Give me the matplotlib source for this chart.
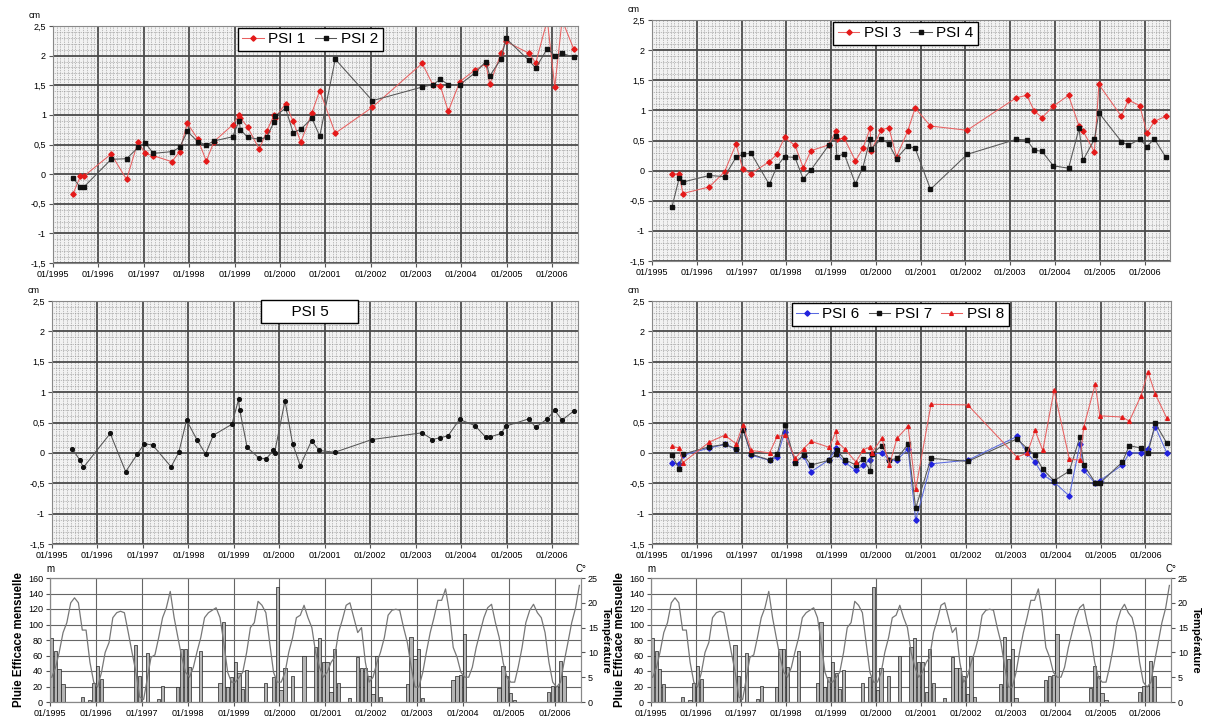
import matplotlib
matplotlib.use('Agg')
import matplotlib.pyplot as plt
import matplotlib.dates as mdates
from matplotlib.ticker import MultipleLocator, FuncFormatter
import pandas as pd

plt.rcParams['font.family'] = ['Liberation Sans', 'DejaVu Sans']

# SAR acquisition dates (shared by all PSI points)
dates = pd.to_datetime([
    '1995-06-12', '1995-08-10', '1995-09-10', '1996-04-13', '1996-08-15',
    '1996-11-16', '1997-01-11', '1997-03-19', '1997-08-15', '1997-10-16',
    '1997-12-17', '1998-03-12', '1998-05-19', '1998-07-20', '1998-12-16',
    '1999-02-08', '1999-02-17', '1999-04-18', '1999-07-19', '1999-09-17',
    '1999-11-15', '1999-11-24', '2000-02-16', '2000-04-17', '2000-06-18',
    '2000-09-16', '2000-11-17', '2001-03-22', '2002-01-15', '2003-02-20',
    '2003-05-16', '2003-07-17', '2003-09-18', '2003-12-19', '2004-04-21',
    '2004-07-16', '2004-08-17', '2004-11-18', '2004-12-25', '2005-06-27',
    '2005-08-22', '2005-11-23', '2006-01-22', '2006-03-22', '2006-06-24'])

psi1 = [-0.33, -0.03, -0.03, 0.34, -0.09, 0.55, 0.35, 0.31, 0.21, 0.38,
        0.86, 0.59, 0.22, 0.55, 0.83, 1.00, 0.95, 0.79, 0.42, 0.72,
        1.00, 0.95, 1.19, 0.89, 0.54, 1.04, 1.41, 0.69, 1.13, 1.87,
        1.51, 1.48, 1.06, 1.56, 1.76, 1.86, 1.52, 2.05, 2.24, 2.04,
        1.88, 2.60, 1.47, 2.60, 2.11]
psi2 = [-0.07, -0.22, -0.21, 0.25, 0.26, 0.45, 0.53, 0.35, 0.38, 0.45,
        0.72, 0.55, 0.49, 0.56, 0.63, 0.90, 0.75, 0.62, 0.59, 0.62,
        0.88, 0.98, 1.11, 0.70, 0.76, 0.94, 0.64, 1.94, 1.24, 1.47,
        1.51, 1.60, 1.51, 1.51, 1.71, 1.90, 1.66, 1.95, 2.29, 1.92,
        1.79, 2.12, 2.00, 2.04, 1.97]
psi3 = [-0.06, -0.05, -0.38, -0.27, -0.02, 0.44, 0.02, -0.05, 0.15, 0.27,
        0.55, 0.42, 0.05, 0.33, 0.43, 0.66, 0.52, 0.54, 0.16, 0.37,
        0.70, 0.33, 0.68, 0.71, 0.23, 0.65, 1.04, 0.74, 0.67, 1.21,
        1.25, 0.99, 0.88, 1.07, 1.25, 0.74, 0.66, 0.31, 1.43, 0.90,
        1.17, 1.08, 0.62, 0.82, 0.90]
psi4 = [-0.61, -0.13, -0.19, -0.08, -0.10, 0.22, 0.27, 0.29, -0.23, 0.07,
        0.23, 0.22, -0.14, 0.01, 0.43, 0.58, 0.23, 0.28, -0.22, 0.05,
        0.52, 0.36, 0.53, 0.44, 0.20, 0.41, 0.37, -0.31, 0.27, 0.52,
        0.51, 0.34, 0.32, 0.08, 0.04, 0.70, 0.17, 0.52, 0.96, 0.48,
        0.42, 0.52, 0.40, 0.53, 0.22]
psi5 = [0.07, -0.11, -0.24, 0.32, -0.31, -0.02, 0.15, 0.13, -0.23, 0.01,
        0.54, 0.21, -0.02, 0.29, 0.47, 0.88, 0.71, 0.09, -0.08, -0.10,
        0.04, 0.00, 0.86, 0.15, -0.21, 0.20, 0.04, 0.01, 0.22, 0.33,
        0.22, 0.25, 0.28, 0.55, 0.45, 0.26, 0.26, 0.32, 0.44, 0.56,
        0.42, 0.56, 0.70, 0.54, 0.69]
psi6 = [-0.16, -0.19, -0.04, 0.08, 0.14, 0.06, 0.40, -0.04, -0.12, -0.07,
        0.35, -0.15, -0.05, -0.31, -0.11, 0.08, -0.02, -0.15, -0.29, -0.20,
        -0.11, -0.02, 0.00, -0.12, -0.12, 0.07, -1.11, -0.18, -0.12, 0.27,
        -0.01, -0.15, -0.36, -0.48, -0.71, 0.14, -0.29, -0.50, -0.46, -0.20,
        0.00, 0.00, 0.07, 0.43, 0.00]
psi7 = [-0.04, -0.26, -0.02, 0.10, 0.14, 0.07, 0.38, -0.02, -0.12, -0.02,
        0.46, -0.16, -0.04, -0.20, -0.12, -0.02, 0.04, -0.11, -0.20, -0.10,
        -0.30, -0.02, 0.12, -0.12, -0.09, 0.14, -0.91, -0.09, -0.14, 0.23,
        0.07, -0.04, -0.27, -0.46, -0.30, 0.26, -0.20, -0.49, -0.50, -0.15,
        0.12, 0.08, 0.00, 0.49, 0.16]
psi8 = [0.11, 0.08, -0.16, 0.18, 0.29, 0.15, 0.46, 0.04, 0.00, 0.27,
        0.29, -0.09, 0.07, 0.19, 0.09, 0.36, 0.18, 0.07, -0.15, 0.05,
        0.10, 0.00, 0.24, -0.20, 0.24, 0.44, -0.60, 0.80, 0.79, -0.07,
        0.00, 0.37, 0.04, 1.03, -0.10, -0.12, 0.43, 1.13, 0.61, 0.59,
        0.52, 0.93, 1.33, 0.97, 0.57]

# monthly effective rainfall (mm) and temperature (C), 01/1995 - 07/2006
months = pd.date_range('1995-01-01', '2006-07-01', freq='MS')
rain = ([83, 66, 43, 23, 0, 0, 0, 0, 7, 0, 3, 25] +
        [46, 30, 0, 0, 0, 0, 0, 0, 0, 0, 74, 33] +
        [0, 63, 0, 0, 4, 21, 0, 0, 0, 20, 68, 68] +
        [45, 0, 0, 66, 0, 0, 0, 0, 25, 103, 20, 32] +
        [52, 37, 17, 41, 0, 0, 0, 0, 24, 0, 32, 149] +
        [16, 44, 0, 34, 0, 0, 60, 0, 0, 71, 82, 52] +
        [52, 13, 69, 25, 0, 0, 5, 0, 58, 44, 44, 34] +
        [10, 60, 7, 0, 0, 0, 0, 0, 0, 23, 84, 55] +
        [68, 5, 0, 0, 0, 0, 0, 0, 0, 28, 33, 35] +
        [88, 0, 0, 0, 0, 0, 0, 0, 0, 18, 47, 34] +
        [12, 3, 0, 0, 0, 0, 0, 0, 0, 0, 13, 21] +
        [21, 53, 33, 0, 0, 0, 0])
temp = ([5, 7, 10, 14, 16, 20, 21, 20, 14.5, 14.5, 8, 4] +
        [3, 6, 10, 12, 17, 18, 18.3, 18, 14, 10, 6, 1] +
        [0.5, 5, 9, 9.5, 13, 17, 19, 22.3, 17, 13, 9, 6] +
        [5, 7, 10, 13, 17, 18, 18.5, 19, 17, 12, 6, 4] +
        [4, 5, 6, 10, 15, 16, 20.3, 19.5, 18, 12, 6, 4] +
        [4, 6, 10, 13, 17, 17.5, 19.5, 17, 15, 10, 7, 5] +
        [6, 8, 9, 14, 16.5, 19.5, 20, 17, 14, 15, 8, 4] +
        [5, 8, 10, 13, 17.5, 18.5, 18.7, 18.5, 15, 12, 7, 3] +
        [3, 6, 10, 14, 17, 20.5, 20.5, 22.8, 18, 11, 9, 6] +
        [5, 5, 7, 11, 14, 17, 19, 19.7, 16, 13, 8, 5] +
        [4, 4, 7, 11, 16, 18.5, 19.7, 18, 17, 14, 8, 4] +
        [3, 4, 8, 12, 16, 19, 23.5])

t0 = pd.Timestamp('1995-01-01')
t1 = pd.Timestamp('2006-07-28')
W, H = 1208, 722

fig = plt.figure(figsize=(12.08, 7.22), dpi=100)


def rect(x0, y0, x1, y1):
    return [x0 / W, 1 - y1 / H, (x1 - x0) / W, (y1 - y0) / H]


def comma(v, _):
    return f'{v:g}'.replace('.', ',')


def psi_axes(r):
    ax = fig.add_axes(r)
    ax.set_xlim(t0, t1)
    ax.set_ylim(-1.5, 2.5)
    ax.xaxis.set_major_locator(mdates.YearLocator())
    ax.xaxis.set_minor_locator(mdates.MonthLocator())
    ax.xaxis.set_major_formatter(mdates.DateFormatter('%m/%Y'))
    ax.yaxis.set_major_locator(MultipleLocator(0.5))
    ax.yaxis.set_minor_locator(MultipleLocator(0.1))
    ax.yaxis.set_major_formatter(FuncFormatter(comma))
    ax.set_facecolor('#f2f2f2')
    ax.grid(which='minor', color='#858585', lw=0.5, ls=(0, (1, 1.5)))
    ax.grid(which='major', color='#4a4a4a', lw=1.3)
    ax.set_axisbelow(True)
    ax.tick_params(which='major', labelsize=6.5, length=3, pad=2, color='#555')
    ax.tick_params(which='minor', length=0)
    for s in ax.spines.values():
        s.set_color('#888')
    ax.text(-0.035, 1.025, 'cm', transform=ax.transAxes, fontsize=6.5,
            ha='center', va='bottom')
    return ax


def psi_line(ax, vals, col, lcol, mk, label):
    ax.plot(dates, vals, color=lcol, lw=0.75, marker=mk, ms=2.7,
            mfc=col, mec=col, label=label)


def legend(ax, x):
    ax.legend(loc='upper center', bbox_to_anchor=(x, 1.0), ncol=3,
              fontsize=11, frameon=True, fancybox=False, framealpha=1,
              edgecolor='black', handlelength=1.4, handletextpad=0.3,
              columnspacing=0.6, borderpad=0.3, borderaxespad=0.1)


RED, RLINE = '#e41a1a', '#e86060'
BLK, BLINE = '#111111', '#555555'
BLU, BLINE2 = '#2222dd', '#5a6ae0'

ax1 = psi_axes(rect(53, 26, 578, 263))
psi_line(ax1, psi1, RED, RLINE, 'D', 'PSI 1')
psi_line(ax1, psi2, BLK, BLINE, 's', 'PSI 2')
legend(ax1, 0.49)

ax2 = psi_axes(rect(652, 20, 1170, 261))
psi_line(ax2, psi3, RED, RLINE, 'D', 'PSI 3')
psi_line(ax2, psi4, BLK, BLINE, 's', 'PSI 4')
legend(ax2, 0.49)

ax3 = psi_axes(rect(52, 301, 578, 544))
psi_line(ax3, psi5, BLK, BLINE, 'o', 'PSI 5')
ax3.text(0.49, 0.985, '      PSI 5      ', transform=ax3.transAxes,
         ha='center', va='top', fontsize=11,
         bbox=dict(boxstyle='square,pad=0.3', fc='white', ec='black'))

ax4 = psi_axes(rect(652, 301, 1171, 544))
psi_line(ax4, psi6, BLU, BLINE2, 'D', 'PSI 6')
psi_line(ax4, psi7, BLK, BLINE, 's', 'PSI 7')
psi_line(ax4, psi8, RED, RLINE, '^', 'PSI 8')
legend(ax4, 0.478)


def climate_axes(r, pad_right):
    ax = fig.add_axes(r)
    ax.bar(months, rain, width=26, align='edge', color='#b4b4b4',
           edgecolor='#222', lw=0.5, zorder=2)
    ax.set_xlim(t0, t1)
    ax.set_ylim(0, 160)
    ax.yaxis.set_major_locator(MultipleLocator(20))
    ax.xaxis.set_major_locator(mdates.YearLocator())
    ax.xaxis.set_major_formatter(mdates.DateFormatter('%m/%Y'))
    ax.grid(color='#666', lw=0.8)
    ax.set_axisbelow(True)
    ax.tick_params(labelsize=6.5, length=3, pad=2, color='#555')
    ax.set_ylabel('Pluie Efficace mensuelle', fontsize=8.3,
                  fontweight='bold', labelpad=2)
    for s in ax.spines.values():
        s.set_color('#888')
    tx = ax.twinx()
    tx.plot(months + pd.Timedelta(days=14), temp, color='#777', lw=0.9,
            zorder=3)
    tx.set_ylim(0, 25)
    tx.yaxis.set_major_locator(MultipleLocator(5))
    tx.tick_params(labelsize=6.5, length=3, pad=2, color='#555')
    tx.set_ylabel('Température', fontsize=8, fontweight='bold',
                  rotation=270, labelpad=pad_right)
    for s in tx.spines.values():
        s.set_color('#888')
    ax.text(0.0, 1.03, 'm', transform=ax.transAxes, fontsize=7,
            ha='center', va='bottom')
    ax.text(1.0, 1.03, 'C°', transform=ax.transAxes, fontsize=7,
            ha='center', va='bottom')
    return ax


climate_axes(rect(50, 578, 581, 702), 9)
climate_axes(rect(651, 578, 1171, 702), 9)

fig.savefig('out.png', dpi=100)
